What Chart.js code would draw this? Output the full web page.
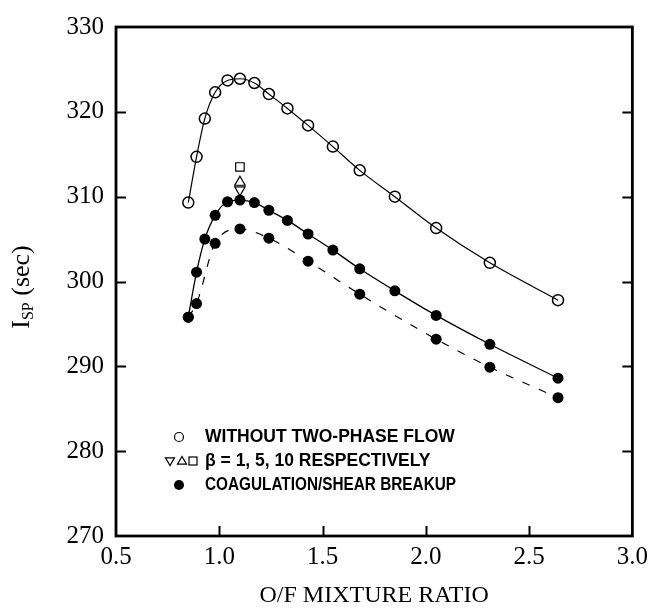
<!DOCTYPE html>
<html>
<head>
<meta charset="utf-8">
<script src="https://cdn.jsdelivr.net/npm/chart.js@4"></script>
<style>
html,body{margin:0;padding:0;background:#fff;}
#wrap{width:654px;height:612px;position:relative;}
</style>
</head>
<body>
<div id="wrap"><canvas id="c" width="654" height="612"></canvas></div>
<script>
// ---- data ----
const ratio = [0.85, 0.89, 0.93, 0.98, 1.04, 1.10, 1.17, 1.24, 1.33, 1.43, 1.55, 1.68, 1.85, 2.05, 2.31, 2.64];
const withoutTwoPhase = [309.3, 314.7, 319.2, 322.3, 323.7, 323.9, 323.4, 322.1, 320.4, 318.4, 315.9, 313.1, 310.0, 306.3, 302.2, 297.8];
const coagulationShear = [295.8, 301.1, 305.0, 307.8, 309.4, 309.6, 309.3, 308.4, 307.2, 305.6, 303.7, 301.5, 298.9, 296.0, 292.6, 288.6];
const dashedRatio = [0.85, 0.89, 0.98, 1.10, 1.24, 1.43, 1.68, 2.05, 2.31, 2.64];
const coagulationDashed = [295.8, 297.4, 304.5, 306.2, 305.1, 302.4, 298.5, 293.2, 289.9, 286.3];
const betaRatio = [1.10];
const beta1 = [310.8];
const beta5 = [311.7];
const beta10 = [313.5];
const xTicks = [0.5, 1.0, 1.5, 2.0, 2.5, 3.0];
const yTicks = [270, 280, 290, 300, 310, 320, 330];
const legendLines = ['WITHOUT TWO-PHASE FLOW', 'β = 1, 5, 10 RESPECTIVELY', 'COAGULATION/SHEAR BREAKUP'];
const xTitle = 'O/F MIXTURE RATIO';

const pts = (xs, ys) => xs.map((x, i) => ({x: x, y: ys[i]}));

const serif = "'Liberation Serif', 'DejaVu Serif', serif";
const sans = "'Liberation Sans', Arial, sans-serif";

const decor = {
  id: 'decor',
  afterDraw(chart) {
    const ctx = chart.ctx, a = chart.chartArea, xs = chart.scales.x, ys = chart.scales.y;
    ctx.save();
    ctx.strokeStyle = '#000';
    // frame
    ctx.lineWidth = 2.8;
    ctx.strokeRect(a.left, a.top, a.right - a.left, a.bottom - a.top);
    // inward tick marks
    ctx.lineWidth = 2;
    const tl = 10;
    ctx.beginPath();
    yTicks.forEach(v => {
      if (v === yTicks[0] || v === yTicks[yTicks.length - 1]) return;
      const p = Math.round(ys.getPixelForValue(v)) + 0.5;
      ctx.moveTo(a.left, p); ctx.lineTo(a.left + tl, p);
      ctx.moveTo(a.right, p); ctx.lineTo(a.right - tl, p);
    });
    xTicks.forEach(v => {
      if (v === xTicks[0] || v === xTicks[xTicks.length - 1]) return;
      const p = Math.round(xs.getPixelForValue(v)) + 0.5;
      ctx.moveTo(p, a.bottom); ctx.lineTo(p, a.bottom - tl);
    });
    ctx.stroke();

    // x title
    ctx.fillStyle = '#000';
    ctx.font = '24px ' + serif;
    ctx.textAlign = 'center';
    ctx.textBaseline = 'middle';
    ctx.fillText(xTitle, (a.left + a.right) / 2, 596);

    // y title with subscript
    ctx.save();
    ctx.translate(22, 287);
    ctx.rotate(-Math.PI / 2);
    const big = '26px ' + serif, small = '16px ' + serif;
    ctx.font = big; const wI = ctx.measureText('I').width; const wS2 = ctx.measureText(' (sec)').width;
    ctx.font = small; const wSP = ctx.measureText('SP').width;
    let x0 = -(wI + wSP + wS2) / 2;
    ctx.textAlign = 'left';
    ctx.font = big; ctx.fillText('I', x0, 0);
    ctx.font = small; ctx.fillText('SP', x0 + wI, 7);
    ctx.font = big; ctx.fillText(' (sec)', x0 + wI + wSP, 0);
    ctx.restore();

    // legend
    ctx.font = 'bold 17.5px ' + sans;
    ctx.textAlign = 'left';
    ctx.textBaseline = 'middle';
    const ly = [437, 461, 485];
    ctx.lineWidth = 1.2;
    // line 1 open circle
    ctx.beginPath(); ctx.arc(179, ly[0], 4.5, 0, Math.PI * 2); ctx.stroke();
    ctx.fillStyle = '#000';
    ctx.fillText(legendLines[0], 205, ly[0], 251);
    // line 2 triangles + square
    const s = 4.5;
    ctx.beginPath(); ctx.moveTo(170 - s, ly[1] - s * 0.7); ctx.lineTo(170 + s, ly[1] - s * 0.7); ctx.lineTo(170, ly[1] + s); ctx.closePath(); ctx.stroke();
    ctx.beginPath(); ctx.moveTo(182 - s, ly[1] + s * 0.7); ctx.lineTo(182 + s, ly[1] + s * 0.7); ctx.lineTo(182, ly[1] - s); ctx.closePath(); ctx.stroke();
    ctx.strokeRect(189, ly[1] - 4, 8, 8);
    ctx.fillText(legendLines[1], 205, ly[1], 238);
    // line 3 filled circle
    ctx.beginPath(); ctx.arc(179, ly[2], 5, 0, Math.PI * 2); ctx.fill();
    ctx.fillText(legendLines[2], 205, ly[2], 251);
    ctx.restore();
  }
};

new Chart(document.getElementById('c'), {
  type: 'scatter',
  data: {
    datasets: [
      {
        label: legendLines[0],
        data: pts(ratio, withoutTwoPhase),
        showLine: true, borderColor: '#000', borderWidth: 1.2,
        cubicInterpolationMode: 'monotone',
        pointStyle: 'circle', pointRadius: 5.5, pointBorderWidth: 1.5,
        pointBackgroundColor: 'rgba(255,255,255,0)', pointBorderColor: '#000'
      },
      {
        label: 'dashed',
        data: pts(dashedRatio, coagulationDashed),
        showLine: true, borderColor: '#000', borderWidth: 1.2, borderDash: [8, 10],
        cubicInterpolationMode: 'monotone',
        pointStyle: 'circle', pointRadius: 5.5, pointBorderWidth: 0,
        pointBackgroundColor: '#000', pointBorderColor: '#000'
      },
      {
        label: legendLines[2],
        data: pts(ratio, coagulationShear),
        showLine: true, borderColor: '#000', borderWidth: 1.3,
        cubicInterpolationMode: 'monotone',
        pointStyle: 'circle', pointRadius: 5.5, pointBorderWidth: 0,
        pointBackgroundColor: '#000', pointBorderColor: '#000'
      },
      {
        label: 'beta1',
        data: pts(betaRatio, beta1),
        pointStyle: 'triangle', rotation: 180, pointRadius: 6, pointBorderWidth: 1.2,
        pointBackgroundColor: 'rgba(255,255,255,0)', pointBorderColor: '#000'
      },
      {
        label: 'beta5',
        data: pts(betaRatio, beta5),
        pointStyle: 'triangle', pointRadius: 6, pointBorderWidth: 1.2,
        pointBackgroundColor: 'rgba(255,255,255,0)', pointBorderColor: '#000'
      },
      {
        label: 'beta10',
        data: pts(betaRatio, beta10),
        pointStyle: 'rect', pointRadius: 6, pointBorderWidth: 1.2,
        pointBackgroundColor: '#fff', pointBorderColor: '#000'
      }
    ]
  },
  options: {
    responsive: false,
    animation: false,
    layout: {padding: {top: 19, right: 18, left: 0, bottom: 0}},
    plugins: {legend: {display: false}, tooltip: {enabled: false}},
    scales: {
      x: {
        type: 'linear', min: 0.5, max: 3.0,
        afterBuildTicks: s => { s.ticks = xTicks.map(v => ({value: v})); },
        afterFit: s => { s.height = 76; },
        ticks: {
          callback: v => Number(v).toFixed(1),
          font: {family: serif, size: 25}, color: '#000', padding: 6, maxRotation: 0
        },
        grid: {display: false, drawTicks: false},
        border: {display: false}
      },
      y: {
        type: 'linear', min: 270, max: 330,
        afterBuildTicks: s => { s.ticks = yTicks.map(v => ({value: v})); },
        afterFit: s => { s.width = 116; },
        ticks: {
          font: {family: serif, size: 25}, color: '#000', padding: 12
        },
        grid: {display: false, drawTicks: false},
        border: {display: false}
      }
    }
  },
  plugins: [decor]
});
</script>
</body>
</html>
